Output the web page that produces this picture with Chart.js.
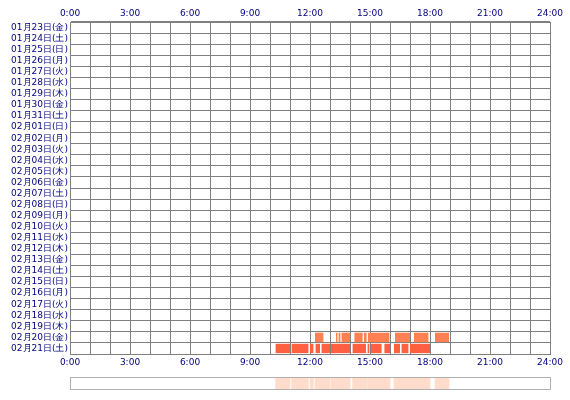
<!DOCTYPE html>
<html><head><meta charset="utf-8">
<script src="https://cdn.jsdelivr.net/npm/chart.js@4"></script>
<style>body{margin:0;background:#fff}#w{position:relative;width:570px;height:400px}canvas{position:absolute;left:0}</style>
</head><body><div id="w"><div style="position:absolute;top:0;left:0;width:570px;height:370px"><canvas id="c"></canvas></div><div style="position:absolute;top:370px;left:0;width:570px;height:24px"><canvas id="s"></canvas></div></div>
<script>
const days = ["01月23日(金)","01月24日(土)","01月25日(日)","01月26日(月)","01月27日(火)","01月28日(水)","01月29日(木)","01月30日(金)","01月31日(土)","02月01日(日)","02月02日(月)","02月03日(火)","02月04日(水)","02月05日(木)","02月06日(金)","02月07日(土)","02月08日(日)","02月09日(月)","02月10日(火)","02月11日(水)","02月12日(木)","02月13日(金)","02月14日(土)","02月15日(日)","02月16日(月)","02月17日(火)","02月18日(水)","02月19日(木)","02月20日(金)","02月21日(土)"];
const day20Segments = [[12.25,12.67],[13.3,13.37],[13.43,13.52],[13.58,14.0],[14.22,14.63],[14.7,14.83],[14.9,15.97],[16.25,17.0],[17.2,17.92],[18.25,18.95]];
const day21Segments = [[10.28,11.0],[11.08,11.92],[12.0,12.17],[12.28,12.5],[12.58,13.0],[13.05,14.0],[14.13,14.8],[14.88,14.97],[15.05,15.58],[15.72,16.0],[16.2,16.5],[16.58,16.92],[17.0,18.0]];
const hourTicks = ["0:00","3:00","6:00","9:00","12:00","15:00","18:00","21:00","24:00"];

const font = {family:"DejaVu Sans", size:9};
const navy = "#000080";
const tickCb = v => (v % 3 === 0) ? hourTicks[v/3] : "";
const xCommon = {type:"linear", min:0, max:24, grid:{color:"#808080", lineWidth:1, drawTicks:false},
  border:{color:"#808080"},
  ticks:{stepSize:1, autoSkip:false, maxRotation:0, color:navy, font, padding:3, callback:tickCb}};
new Chart(document.getElementById("c"), {
  type:"bar",
  data:{labels:days, datasets:[
    {data:day20Segments.map(s=>({x:s,y:days[28]})), backgroundColor:"#ff8050", xAxisID:"x"},
    {data:day21Segments.map(s=>({x:s,y:days[29]})), backgroundColor:"#ff6040", xAxisID:"x"}
  ]},
  options:{indexAxis:"y", responsive:true, maintainAspectRatio:false, animation:false,
    layout:{padding:{left:0,right:20,top:0,bottom:0}},
    plugins:{legend:{display:false}, tooltip:{enabled:false}},
    datasets:{bar:{grouped:false, categoryPercentage:1, barPercentage:0.85}},
    scales:{
      x:{...xCommon, position:"bottom", afterFit:s=>{s.height=16}},
      x2:{...xCommon, position:"top", afterFit:s=>{s.height=22}},
      y:{type:"category", grid:{color:"#808080", offset:true, drawTicks:false}, border:{color:"#808080"},
         ticks:{color:navy, font, padding:2, autoSkip:false}, afterFit:s=>{s.width=70}}
    }}
});
const frame = {id:"frame", afterDraw(ch){const a=ch.chartArea,c=ch.ctx;c.save();c.strokeStyle="#b0b0b0";c.lineWidth=1;c.strokeRect(Math.round(a.left)+0.5,Math.round(a.top)+0.5,Math.round(a.right-a.left),Math.round(a.bottom-a.top));c.restore();}};
new Chart(document.getElementById("s"), {
  type:"bar",
  data:{labels:["all"], datasets:[
    {data:day20Segments.map(s=>({x:s,y:"all"})), backgroundColor:"#ffdccc"},
    {data:day21Segments.map(s=>({x:s,y:"all"})), backgroundColor:"#ffdccc"}
  ]},
  plugins:[frame],
  options:{indexAxis:"y", responsive:true, maintainAspectRatio:false, animation:false,
    layout:{padding:{left:70,right:20,top:7,bottom:5}},
    plugins:{legend:{display:false}, tooltip:{enabled:false}},
    datasets:{bar:{grouped:false, categoryPercentage:1, barPercentage:1}},
    scales:{x:{type:"linear",min:0,max:24,display:false}, y:{display:false}}}
});
</script></body></html>
